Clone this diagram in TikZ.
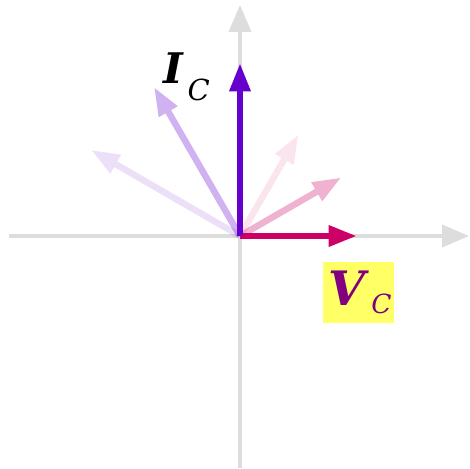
\documentclass[tikz,border=0pt]{standalone}
\usepackage{fontspec}
\setmainfont{DejaVu Serif}
\usepackage{tikz}
\usetikzlibrary{arrows.meta, positioning}
\definecolor{axisgray}{RGB}{221,221,221}
\definecolor{voltred}{RGB}{204,0,102}
\definecolor{currpurple}{RGB}{102,0,204}
\definecolor{labelpurple}{RGB}{128,0,128}
\definecolor{boxyellow}{RGB}{255,255,102}

\tikzset{
  axis/.style={draw=axisgray, line width=0.08cm,
    -{Triangle[length=0.54cm, width=0.44cm]}},
  phasor/.style={line width=0.13cm,
    -{Triangle[length=0.57cm, width=0.4cm]}}
}

\begin{document}
\begin{tikzpicture}[x=0.02cm, y=0.02cm]
  \useasboundingbox (-240,-233) rectangle (229,236);

  % Axes
  \coordinate (O) at (0,0);
  \coordinate (xL) at (-231,0);
  \coordinate (xR) at (229,0);
  \coordinate (yB) at (0,-232);
  \coordinate (yT) at (0,231);
  \draw[axis] (xL) -- (xR);
  \draw[axis] (yB) -- (yT);

  % Earlier positions, fading out
  \foreach \ang/\op in {60/0.1, 30/0.3}{
    \begin{scope}[transparency group, opacity=\op]
      \coordinate (Vold) at (\ang:117);
      \draw[phasor, voltred] (O) -- (Vold);
    \end{scope}
  }
  \foreach \ang/\op in {150/0.12, 120/0.3}{
    \begin{scope}[transparency group, opacity=\op]
      \coordinate (Iold) at (\ang:172);
      \draw[phasor, currpurple] (O) -- (Iold);
    \end{scope}
  }

  % Current phasors
  \coordinate (V) at (0:117);
  \coordinate (I) at (90:173);
  \draw[phasor, voltred] (O) -- (V);
  \draw[phasor, currpurple] (O) -- (I);

  % Labels
  \node[anchor=base west, inner sep=0pt, font=\fontsize{24}{26}\selectfont]
    (Ilabel) at (-77,152)
    {\textbf{\textit{I}}\hspace{2pt}\raisebox{-9.5pt}{\fontsize{16.5}{17}\selectfont\textit{C}}};
  \node[fill=boxyellow, text=labelpurple, minimum width=1.42cm,
    minimum height=1.22cm, inner sep=0pt, font=\fontsize{27}{29}\selectfont]
    (Vlabel) at (118.5,-56.5)
    {\hspace{2pt}\textbf{\textit{V}}\hspace{1pt}\raisebox{-4.5pt}{\fontsize{15}{15}\selectfont\textit{C}}};
\end{tikzpicture}
\end{document}
